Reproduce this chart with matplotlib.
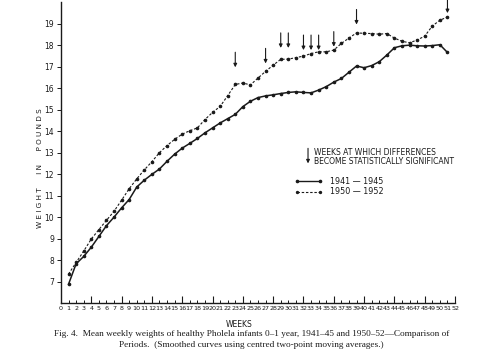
import numpy as np
import matplotlib
matplotlib.use("Agg")
import matplotlib.pyplot as plt
from matplotlib.ticker import FixedLocator

# mean weekly weight (lb), weeks 1..51
weeks = list(range(1, 52))
w_1941 = [6.88, 7.83, 8.17, 8.60, 9.10, 9.60, 10.00, 10.43, 10.82, 11.40,
          11.72, 11.99, 12.24, 12.60, 12.93, 13.21, 13.43, 13.66, 13.92, 14.15,
          14.38, 14.58, 14.78, 15.14, 15.39, 15.56, 15.64, 15.69, 15.75, 15.80,
          15.83, 15.80, 15.78, 15.91, 16.07, 16.28, 16.45, 16.74, 17.03, 16.95,
          17.05, 17.23, 17.54, 17.88, 17.97, 18.00, 17.97, 17.96, 17.98, 18.02,
          17.66]
w_1950 = [7.35, 7.89, 8.42, 8.98, 9.42, 9.85, 10.27, 10.79, 11.32, 11.78,
          12.20, 12.58, 13.00, 13.33, 13.62, 13.86, 14.02, 14.15, 14.54, 14.87,
          15.15, 15.65, 16.17, 16.24, 16.15, 16.47, 16.78, 17.07, 17.34, 17.35,
          17.42, 17.49, 17.61, 17.69, 17.69, 17.77, 18.08, 18.33, 18.57, 18.55,
          18.54, 18.51, 18.54, 18.33, 18.18, 18.11, 18.24, 18.42, 18.89, 19.16,
          19.31]

# weeks where differences become significant, and arrow tip heights
sig_weeks = [23, 27, 29, 30, 32, 33, 34, 36, 39, 51]
sig_tips = [16.97, 17.15, 17.87, 17.87, 17.77, 17.77, 17.77, 17.93, 18.96, 19.49]
arrow_len = 0.7

ink = "#1a1a1a"
narrow = ["Liberation Sans Narrow", "DejaVu Sans"]
serif = ["Liberation Serif", "DejaVu Serif"]

fig = plt.figure(figsize=(4.8, 3.6), dpi=100)
ax = fig.add_axes([0.127, 0.158, 0.821, 0.836])

ax.plot(weeks, w_1941, "-", color=ink, lw=1.1, marker="o", markersize=1.6)
ax.plot(weeks, w_1950, color=ink, lw=0.8, ls=(0, (2.2, 1.6)),
        marker="o", markersize=1.6)

for wk, tip in zip(sig_weeks, sig_tips):
    ax.annotate("", xy=(wk, tip), xytext=(wk, tip + arrow_len),
                arrowprops=dict(arrowstyle="-|>", color=ink, lw=0.8,
                                mutation_scale=5, shrinkA=0, shrinkB=0))

ax.set_xlim(0, 52)
ax.set_ylim(6, 20)
for s in ("top", "right"):
    ax.spines[s].set_visible(False)
for s in ("left", "bottom"):
    ax.spines[s].set_color(ink)
    ax.spines[s].set_linewidth(1.0)

ax.set_xticks(range(0, 53))
ax.set_xticklabels([str(i) for i in range(0, 53)], fontsize=4.6,
                   family=narrow, color=ink)
ax.xaxis.set_minor_locator(FixedLocator(range(4, 53, 4)))
ax.xaxis.remove_overlapping_locs = False
ax.tick_params(axis="x", which="major", direction="in", length=2, width=0.7,
               pad=2, colors=ink)
ax.tick_params(axis="x", which="minor", direction="in", length=5, width=0.8,
               colors=ink)

ax.set_yticks(range(7, 20))
ax.set_yticklabels([str(i) for i in range(7, 20)], fontsize=5.5,
                   family=narrow, color=ink)
ax.tick_params(axis="y", direction="out", length=3, width=0.7, pad=2,
               colors=ink)

ax.text(-2.8, 12.3, "W E I G H T      I N      P O U N D S", rotation=90,
        ha="center", va="center", fontsize=5.2, family=narrow, color=ink)
ax.text(23.5, 5.0, "WEEKS", ha="center", va="center", fontsize=5.5,
        family=narrow, color=ink)

# legend
ax.annotate("", xy=(32.6, 12.5), xytext=(32.6, 13.2),
            arrowprops=dict(arrowstyle="-|>", color=ink, lw=0.8,
                            mutation_scale=5, shrinkA=0, shrinkB=0))
ax.text(33.4, 13.0, "WEEKS AT WHICH DIFFERENCES", fontsize=5.5,
        family=narrow, color=ink, va="center")
ax.text(33.4, 12.57, "BECOME STATISTICALLY SIGNIFICANT", fontsize=5.5,
        family=narrow, color=ink, va="center")
ax.plot([31.2, 34.2], [11.68, 11.68], "-", color=ink, lw=1.0)
ax.plot([31.2, 34.2], [11.68, 11.68], "o", color=ink, markersize=1.6)
ax.plot([31.2, 34.2], [11.17, 11.17], color=ink, lw=0.8, ls=(0, (2.2, 1.6)))
ax.plot([31.2, 34.2], [11.17, 11.17], "o", color=ink, markersize=1.4)
ax.text(35.5, 11.68, "1941 \u2014 1945", fontsize=5.8, family=narrow,
        color=ink, va="center")
ax.text(35.5, 11.17, "1950 \u2014 1952", fontsize=5.8, family=narrow,
        color=ink, va="center")

fig.text(0.113, 0.072, "Fig. 4.  Mean weekly weights of healthy Pholela infants "
         "0\u20131 year, 1941\u201345 and 1950\u201352\u2014Comparison of",
         fontsize=6.7, family=serif, color=ink, va="center")
fig.text(0.248, 0.041, "Periods.  (Smoothed curves using centred two-point "
         "moving averages.)", fontsize=6.7, family=serif, color=ink,
         va="center")

plt.savefig("out.png", dpi=100)
plt.close()
